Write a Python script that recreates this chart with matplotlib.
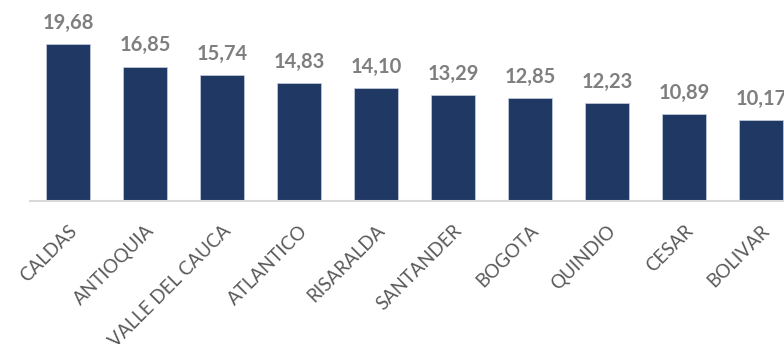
import numpy as np
from matplotlib import pyplot as plt

departamentos = ["CALDAS", "ANTIOQUIA", "VALLE DEL CAUCA", "ATLANTICO", "RISARALDA",
                 "SANTANDER", "BOGOTA", "QUINDIO", "CESAR", "BOLIVAR"]
valores = [19.68, 16.85, 15.74, 14.83, 14.10, 13.29, 12.85, 12.23, 10.89, 10.17]

plt.rcParams['font.family'] = ['Lato', 'DejaVu Sans']

fig = plt.figure(figsize=(7.84, 3.44), dpi=100)
ax = fig.add_axes([29.5 / 784, 143 / 344, 770 / 784, 201 / 344])

x = np.arange(len(valores))
ax.bar(x, valores, width=0.57, color="#203864", edgecolor="#c9d1e0", linewidth=0.5)

for xi, v in zip(x, valores):
    ax.annotate(f"{v:.2f}".replace(".", ","), (xi, v), xytext=(0, 8),
                textcoords="offset points", ha="center", va="bottom",
                fontsize=14.5, fontweight="bold", color="#7f7f7f")

ax.set_xlim(-0.5, len(valores) - 0.5)
ax.set_ylim(0, 25.19)
ax.set_xticks(x)
ax.set_xticklabels(departamentos, rotation=45, ha="right", rotation_mode="anchor",
                   fontsize=13.5, color="#595959")
ax.tick_params(axis="x", length=0, pad=15)
ax.set_yticks([])
for s in ["top", "right", "left"]:
    ax.spines[s].set_visible(False)
ax.spines["bottom"].set_color("#d9d9d9")
ax.spines["bottom"].set_linewidth(1.5)
ax.patch.set_alpha(0)

fig.savefig("out.png", dpi=100, facecolor="white")
